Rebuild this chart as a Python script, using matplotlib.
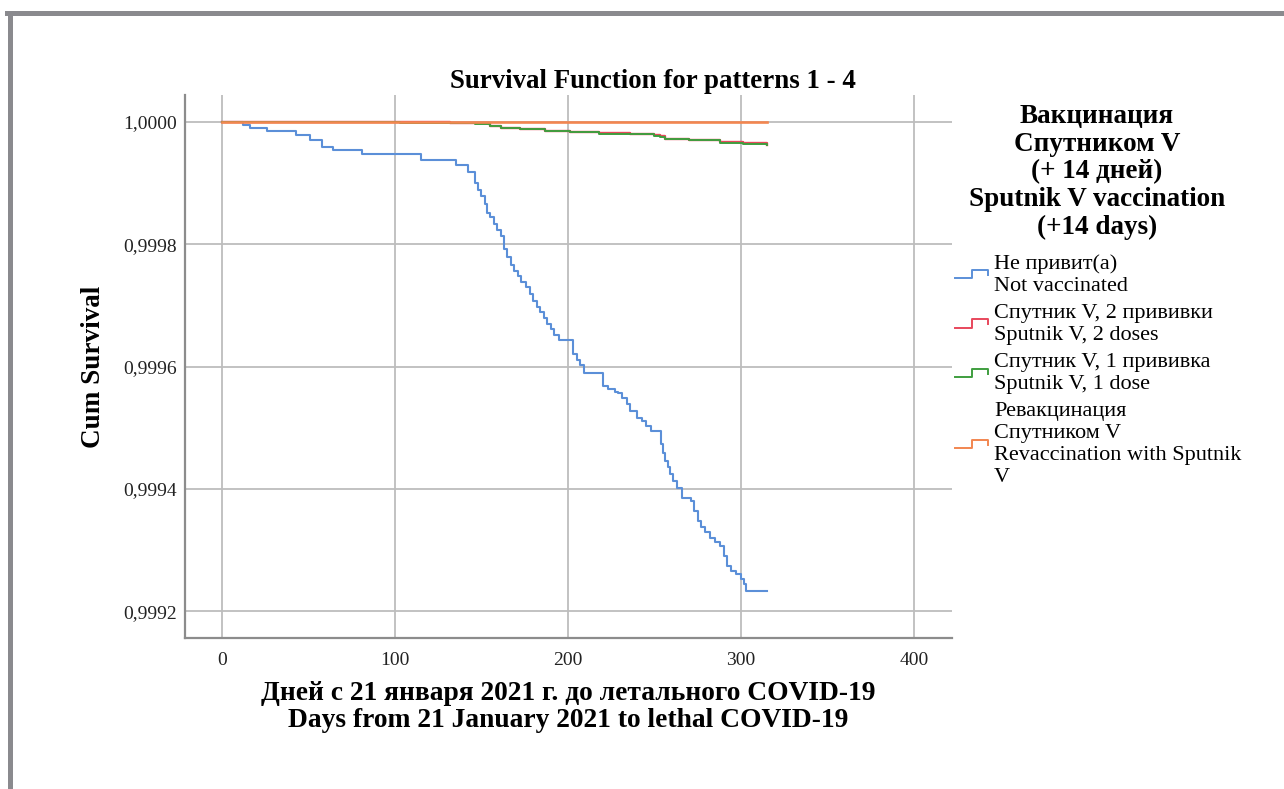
import matplotlib
matplotlib.use('Agg')
import matplotlib.pyplot as plt
from matplotlib.legend_handler import HandlerBase
from matplotlib.lines import Line2D

# шрифт с кириллицей
plt.rcParams['font.family'] = ['Liberation Serif', 'DejaVu Serif']

# данные
days_not_vacc = [0, 12, 16, 26, 43, 51, 58, 64, 81, 115, 135, 142,
                 146, 148, 150, 152, 153, 155, 157, 159, 161, 163, 165, 167, 169, 171,
                 173, 176, 178, 180, 182, 184, 186, 188, 190, 192, 195, 203, 205, 207,
                 209, 220, 223, 227, 229, 231, 234, 236, 240, 243, 245, 248, 254, 255,
                 256, 258, 259, 261, 263, 266, 271, 273, 275, 277, 279, 282, 285, 288,
                 290, 292, 294, 297, 300, 302, 303, 315]
surv_not_vacc = [1.0, 0.999995, 0.999990, 0.999986, 0.999979, 0.999970, 0.999960,
                 0.999955, 0.999948, 0.999938, 0.999929, 0.999919,
                 0.999900, 0.999889, 0.999879, 0.999866, 0.999852, 0.999844, 0.999833,
                 0.999823, 0.999813, 0.999793, 0.999779, 0.999767, 0.999756, 0.999748,
                 0.999738, 0.999730, 0.999718, 0.999707, 0.999697, 0.999689, 0.999679,
                 0.999670, 0.999661, 0.999652, 0.999643, 0.999621, 0.999610, 0.999602,
                 0.999589, 0.999569, 0.999564, 0.999559, 0.999556, 0.999548, 0.999538,
                 0.999528, 0.999516, 0.999511, 0.999503, 0.999495, 0.999474, 0.999459,
                 0.999446, 0.999436, 0.999425, 0.999413, 0.999402, 0.999385, 0.999380,
                 0.999364, 0.999348, 0.999338, 0.999330, 0.999320, 0.999313, 0.999307,
                 0.999290, 0.999274, 0.999266, 0.999261, 0.999252, 0.999244, 0.999233,
                 0.999233]

days_vacc = [0, 103, 132, 146, 155, 161, 172, 187, 201, 218, 236, 250, 253, 256,
             270, 288, 301, 315]
surv_2_doses = [1.0, 0.9999995, 0.9999990, 0.999998, 0.999994, 0.999991, 0.999989,
                0.999986, 0.999984, 0.999982, 0.999981, 0.999979, 0.999977, 0.999973,
                0.999971, 0.999967, 0.999965, 0.999963]
surv_1_dose = [1.0, 0.9999990, 0.9999984, 0.999997, 0.999993, 0.999990, 0.999988,
               0.999985, 0.999983, 0.999981, 0.999980, 0.999978, 0.999976, 0.999972,
               0.999970, 0.999966, 0.999964, 0.999962]

days_revacc = [0, 315]
surv_revacc = [1.0, 1.0]

x_ticks = [0, 100, 200, 300, 400]
y_ticks = [0.9992, 0.9994, 0.9996, 0.9998, 1.0]
y_tick_labels = ['0,9992', '0,9994', '0,9996', '0,9998', '1,0000']

legend_title = 'Вакцинация\nСпутником V\n(+ 14 дней)\nSputnik V vaccination\n(+14 days)'
labels = ['Не привит(а)\nNot vaccinated',
          'Спутник V, 2 прививки\nSputnik V, 2 doses',
          'Спутник V, 1 прививка\nSputnik V, 1 dose',
          'Ревакцинация\nСпутником V\nRevaccination with Sputnik\nV']
colors = ['#5b8fd8', '#e8485c', '#3f9e3f', '#f28650']


class StepHandler(HandlerBase):
    # значок легенды в виде ступеньки, как в SPSS
    def create_artists(self, legend, orig_handle, xdescent, ydescent,
                       width, height, fontsize, trans):
        y0 = height / 2 - ydescent - 3
        y1 = y0 + 6
        xs = [-xdescent, width * 0.5, width * 0.5, width, width]
        ys = [y0, y0, y1, y1, y1 - 3.5]
        line = Line2D(xs, ys, color=orig_handle.get_color(), lw=1.4, transform=trans)
        return [line]


fig = plt.figure(figsize=(12.84, 7.89), dpi=100)
ax = fig.add_axes([185 / 1284, 151 / 789, 767 / 1284, 543 / 789])

h1, = ax.step(days_not_vacc, surv_not_vacc, where='post', color=colors[0], lw=1.5)
h2, = ax.step(days_vacc, surv_2_doses, where='post', color=colors[1], lw=1.7)
h3, = ax.step(days_vacc, surv_1_dose, where='post', color=colors[2], lw=1.4)
h4, = ax.step(days_revacc, surv_revacc, where='post', color=colors[3], lw=1.9)

ax.set_xlim(-21.4, 422)
ax.set_ylim(0.999156, 1.0000443)
ax.set_xticks(x_ticks)
ax.set_yticks(y_ticks)
ax.set_yticklabels(y_tick_labels)
ax.tick_params(length=0, labelsize=14, colors='#222222')
ax.tick_params(axis='y', pad=6)
ax.tick_params(axis='x', pad=10)

ax.grid(True, color='#bdbdbd', lw=1.3)
ax.set_axisbelow(True)
for s in ['top', 'right']:
    ax.spines[s].set_visible(False)
for s in ['left', 'bottom']:
    ax.spines[s].set_color('#8c8c8c')
    ax.spines[s].set_linewidth(1.6)

ax.set_ylabel('Cum Survival', fontsize=19.5, fontweight='bold', labelpad=12.5)
ax.set_xlabel('Дней с 21 января 2021 г. до летального COVID-19\n'
              'Days from 21 January 2021 to lethal COVID-19',
              fontsize=19.8, fontweight='bold', linespacing=1.1)
ax.xaxis.set_label_coords(0.5, -0.079)

fig.text(653 / 1284, 1 - 82 / 789, 'Survival Function for patterns 1 - 4',
         ha='center', va='center', fontsize=19.4, fontweight='bold')

# заголовок легенды отдельно, чтобы выдержать отступ до пунктов
fig.text(1097 / 1284, 1 - 104 / 789, legend_title, ha='center', va='top',
         fontsize=19.5, fontweight='bold', linespacing=1.14, multialignment='center')

leg = ax.legend([h1, h2, h3, h4], labels,
                handler_map={Line2D: StepHandler()},
                bbox_to_anchor=(955 / 1284, 1 - 254 / 789), bbox_transform=fig.transFigure,
                loc='upper left', frameon=False, borderpad=0, borderaxespad=0,
                fontsize=16, handlelength=1.5, handletextpad=0.25, labelspacing=0.38,
                prop={'size': 16})
for t in leg.get_texts():
    t.set_linespacing(1.2)

# серая рамка вокруг рисунка
fig.add_artist(Line2D([9.5 / 1284, 9.5 / 1284], [0, 1 - 12.5 / 789],
                      transform=fig.transFigure, color='#8a8a8e', lw=3.6))
fig.add_artist(Line2D([7 / 1284, 1], [1 - 12.5 / 789, 1 - 12.5 / 789],
                      transform=fig.transFigure, color='#8a8a8e', lw=3.6))

fig.savefig('out.png', dpi=100)
plt.close()
